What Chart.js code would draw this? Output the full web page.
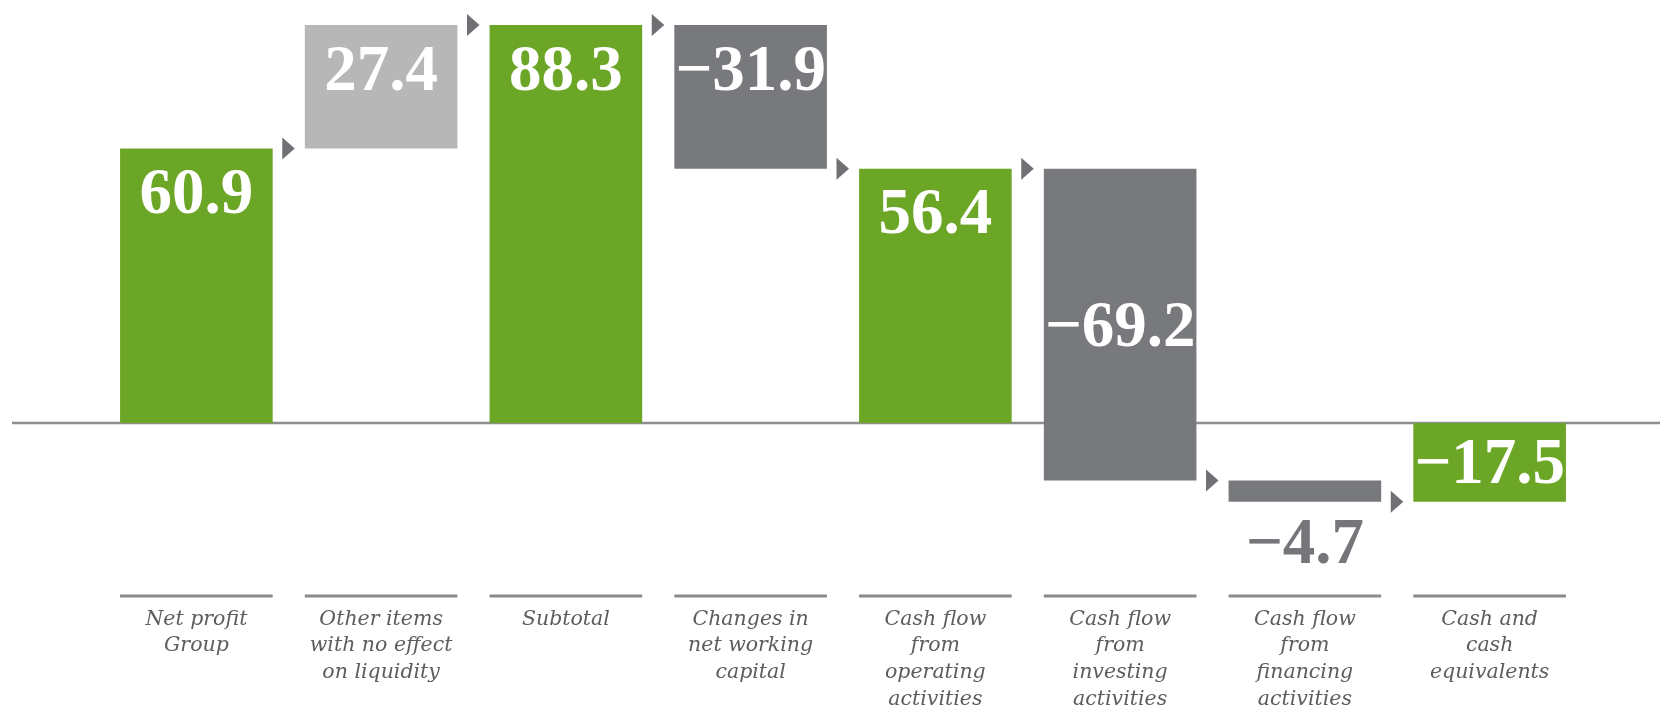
<!DOCTYPE html>
<html><head><meta charset="utf-8">
<script src="https://cdn.jsdelivr.net/npm/chart.js@4.4.1/dist/chart.umd.min.js"></script>
<style>html,body{margin:0;padding:0;background:#fff;overflow:hidden}#wrap{width:1660px;height:710px}</style>
</head><body><div id="wrap"><canvas id="c" width="1660" height="710"></canvas></div>
<script>
// ---- data ----
const categories = [
  ["Net profit", "Group"],
  ["Other items", "with no effect", "on liquidity"],
  ["Subtotal"],
  ["Changes in", "net working", "capital"],
  ["Cash flow", "from", "operating", "activities"],
  ["Cash flow", "from", "investing", "activities"],
  ["Cash flow", "from", "financing", "activities"],
  ["Cash and", "cash", "equivalents"]
];
const amounts = [60.9, 27.4, 88.3, -31.9, 56.4, -69.2, -4.7, -17.5];
const kinds = ["total", "change", "total", "change", "total", "change", "change", "total"];
const valueLabels = ["60.9", "27.4", "88.3", "\u221231.9", "56.4", "\u221269.2", "\u22124.7", "\u221217.5"];

// ---- build floating ranges (waterfall) ----
const ranges = [], levels = [];
let run = 0;
amounts.forEach((v, i) => {
  if (kinds[i] === "total") { ranges.push([0, v]); run = v; }
  else { ranges.push([run, +(run + v).toFixed(1)]); run = +(run + v).toFixed(1); }
  levels.push(run);
});
const GREEN = "#6ca626", LIGHT = "#b7b7b7", DARK = "#78797c";
const colors = amounts.map((v, i) => kinds[i] === "total" ? GREEN : (v >= 0 ? LIGHT : DARK));

const deco = {
  id: "deco",
  beforeDatasetsDraw(chart) {
    const c = chart.ctx, y0 = chart.scales.y.getPixelForValue(0);
    c.save();
    c.strokeStyle = "#8e8e8e"; c.lineWidth = 2.5;
    c.beginPath(); c.moveTo(12, y0); c.lineTo(chart.width, y0); c.stroke();
    c.restore();
  },
  afterDatasetsDraw(chart, args, opts) {
    const c = chart.ctx, meta = chart.getDatasetMeta(0), ys = chart.scales.y;
    c.save();
    // arrows
    c.fillStyle = "#707175";
    meta.data.forEach((bar, i) => {
      if (i >= meta.data.length - 1) return;
      const x0 = bar.x + bar.width / 2 + 9.6, y = ys.getPixelForValue(levels[i]);
      c.beginPath(); c.moveTo(x0, y - 11); c.lineTo(x0 + 12.5, y); c.lineTo(x0, y + 11); c.closePath(); c.fill();
    });
    // separators above category labels
    c.strokeStyle = "#8a8a8a"; c.lineWidth = 3;
    meta.data.forEach(bar => {
      c.beginPath(); c.moveTo(bar.x - bar.width / 2, 596); c.lineTo(bar.x + bar.width / 2, 596); c.stroke();
    });
    // value labels
    c.font = "bold 65px 'Liberation Serif', serif";
    c.textAlign = "center"; c.textBaseline = "alphabetic";
    meta.data.forEach((bar, i) => {
      const top = Math.min(bar.y, bar.base), bot = Math.max(bar.y, bar.base);
      const mode = opts.placement[i];
      let y;
      if (mode === "top") y = top + 64.5;
      else if (mode === "middle") y = (top + bot) / 2 + 21;
      else y = bot + 61.5;
      c.fillStyle = mode === "below" ? "#75767a" : "#ffffff";
      c.fillText(valueLabels[i], bar.x, y);
    });
    c.restore();
  }
};

new Chart(document.getElementById("c"), {
  type: "bar",
  data: {
    labels: categories,
    datasets: [{ data: ranges, backgroundColor: colors, borderWidth: 0, barPercentage: 0.826, categoryPercentage: 1 }]
  },
  options: {
    responsive: false, animation: false, events: [],
    layout: { padding: { left: 104, right: 78, top: 0, bottom: 0 } },
    plugins: {
      legend: { display: false }, tooltip: { enabled: false },
      deco: { placement: ["top", "top", "top", "top", "top", "middle", "below", "middle"] }
    },
    scales: {
      x: {
        grid: { display: false, drawTicks: false }, border: { display: false },
        ticks: {
          color: "#5d5d5d", padding: 16, maxRotation: 0, autoSkip: false,
          font: { family: "'DejaVu Serif', serif", style: "italic", size: 20.5, lineHeight: 1.3 }
        },
        afterFit(s) { s.height = 120; }
      },
      y: { display: false, min: -37.08, max: 93.85 }
    }
  },
  plugins: [deco]
});
</script>
</body></html>
